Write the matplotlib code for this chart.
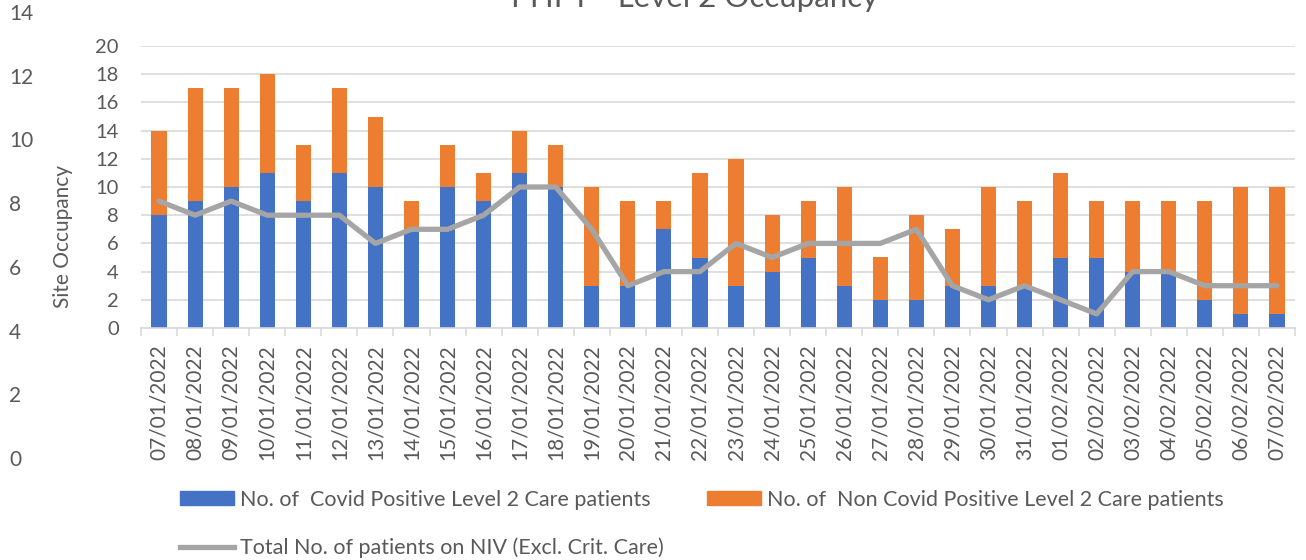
import matplotlib
matplotlib.use("Agg")
import matplotlib.pyplot as plt
from matplotlib.patches import Patch
from matplotlib.lines import Line2D

plt.rcParams['font.family'] = ['Lato', 'DejaVu Sans']

dates = ["07/01/2022", "08/01/2022", "09/01/2022", "10/01/2022", "11/01/2022", "12/01/2022",
         "13/01/2022", "14/01/2022", "15/01/2022", "16/01/2022", "17/01/2022", "18/01/2022",
         "19/01/2022", "20/01/2022", "21/01/2022", "22/01/2022", "23/01/2022", "24/01/2022",
         "25/01/2022", "26/01/2022", "27/01/2022", "28/01/2022", "29/01/2022", "30/01/2022",
         "31/01/2022", "01/02/2022", "02/02/2022", "03/02/2022", "04/02/2022", "05/02/2022",
         "06/02/2022", "07/02/2022"]
covid = [8, 9, 10, 11, 9, 11, 10, 7, 10, 9, 11, 10, 3, 3, 7, 5, 3, 4, 5, 3, 2, 2, 3, 3, 3, 5, 5, 4, 4, 2, 1, 1]
non_covid = [6, 8, 7, 7, 4, 6, 5, 2, 3, 2, 3, 3, 7, 6, 2, 6, 9, 4, 4, 7, 3, 6, 4, 7, 6, 6, 4, 5, 5, 7, 9, 9]
niv = [9, 8, 9, 8, 8, 8, 6, 7, 7, 8, 10, 10, 7, 3, 4, 4, 6, 5, 6, 6, 6, 7, 3, 2, 3, 2, 1, 4, 4, 3, 3, 3]

W, H = 1306, 560
txt = '#595959'
grid = '#d9d9d9'

fig = plt.figure(figsize=(W / 100, H / 100), dpi=100)

# outer axis 0-14 on the far left
ax2 = fig.add_axes([8 / W, (H - 458) / H, 1 / W, (458 - 12) / H])
ax2.set_ylim(0, 14)
ax2.set_yticks(range(0, 15, 2))
ax2.yaxis.tick_right()
ax2.tick_params(axis='y', length=0, pad=0, labelsize=15, labelcolor=txt)
ax2.set_xticks([])
for s in ax2.spines.values():
    s.set_visible(False)
ax2.patch.set_alpha(0)

# main chart
ax = fig.add_axes([141 / W, (H - 328) / H, (1295 - 141) / W, (328 - 46) / H])
x = list(range(len(dates)))
ax.bar(x, covid, width=0.42, color='#4472C4', zorder=2)
ax.bar(x, non_covid, width=0.42, bottom=covid, color='#ED7D31', zorder=2)
ax.plot(x, niv, color='#A5A5A5', lw=3.8, solid_joinstyle='round', solid_capstyle='round', zorder=3)

ax.set_xlim(-0.5, len(dates) - 0.5)
ax.set_ylim(0, 20)
ax.set_yticks(range(0, 21, 2))
ax.yaxis.grid(True, color=grid, lw=1.2)
ax.set_axisbelow(True)
ax.set_xticks(x)
ax.set_xticklabels(dates, rotation=90)
ax.set_xticks([i + 0.5 for i in range(-1, len(dates))], minor=True)
ax.tick_params(axis='x', which='major', length=0, pad=12, labelsize=15, labelcolor=txt)
ax.tick_params(axis='x', which='minor', length=6, width=1.2, color=grid)
ax.tick_params(axis='y', length=0, pad=16, labelsize=14.5, labelcolor=txt)
for s in ['top', 'right', 'left']:
    ax.spines[s].set_visible(False)
ax.spines['bottom'].set_color(grid)
ax.spines['bottom'].set_linewidth(1.2)

# title sits partly above the top edge, as in the source image
fig.text(695 / W, 1 - 7 / H, "PHFT - Level 2 Occupancy", ha='center', va='baseline',
         fontsize=22.5, color=txt)
fig.text(63 / W, 1 - 236 / H, "Site Occupancy", rotation=90, ha='center', va='center',
         fontsize=15, color=txt)

handles = [Patch(color='#4472C4'),
           Line2D([], [], color='#A5A5A5', lw=3.8),
           Patch(color='#ED7D31')]
labels = ["No. of  Covid Positive Level 2 Care patients",
          "Total No. of patients on NIV (Excl. Crit. Care)",
          "No. of  Non Covid Positive Level 2 Care patients"]
leg = fig.legend(handles, labels, ncol=2, loc='upper left',
                 bbox_to_anchor=(169 / W, 1 - 479 / H), frameon=False,
                 fontsize=15.5, labelcolor=txt, handlelength=2.5, handleheight=0.65,
                 handletextpad=0.3, columnspacing=2.0, labelspacing=1.3, borderpad=0)

fig.savefig("out.png", dpi=100)
